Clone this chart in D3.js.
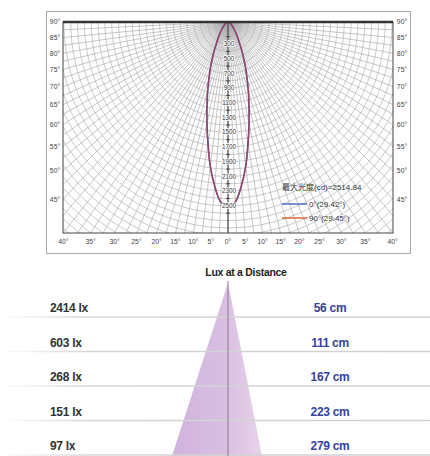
<!DOCTYPE html>
<html><head><meta charset="utf-8">
<script src="https://cdn.jsdelivr.net/npm/d3@7"></script>
<style>body{margin:0;background:#fff}svg{display:block;font-family:"Liberation Sans",Arial,"Noto Sans CJK SC",sans-serif}</style>
</head><body>
<svg id="c" width="430" height="456"></svg>
<script>
// ---- data ----
const angles = [0,2.5,5,7.5,10,12.5,15,17.5,20,22.5,25,27.5,30,35,40,50,60,70,80,90];
const intensityC0 = [2514.84,2450,2240,1980,1680,1420,1185,990,810,670,540,430,340,230,160,80,40,15,5,0];
const intensityC90 = [2514.84,2446,2236,1985,1690,1426,1190,996,815,672,542,432,342,232,162,81,40,15,5,0];
const seriesNames = ["0°(29.42°)", "90°(29.45°)"];
const maxLabel = "最大光度(cd)=2514.84";
const sideAngleTicks = [90,85,80,75,70,65,60,55,50,45];
const bottomAngleTicks = [40,35,30,25,20,15,10,5,0];
const candelaTicks = [300,500,700,900,1100,1300,1500,1700,1900,2100,2300,2500];
const luxTitle = "Lux at a Distance";
const luxValues = [2414,603,268,151,97];
const distances = [56,111,167,223,279];

// ---- layout ----
const svg = d3.select("#c");
const P = {L:63, R:393, T:22, B:233};
const cx = 228, oy = 22, kx = 0.93;
const r = d3.scaleLinear().domain([0, 2870]).range([0, 211]);
const rad = d => d*Math.PI/180;
const proj = (deg, rr) => [cx + Math.sin(rad(deg))*rr*kx, oy + Math.cos(rad(deg))*rr];

// outer frame
svg.append("rect").attr("x",46.5).attr("y",11.5).attr("width",364).attr("height",242)
  .attr("fill","#fff").attr("stroke","#a8a8a8").attr("stroke-width",1);

svg.append("defs").append("clipPath").attr("id","pc").append("rect")
  .attr("x",P.L).attr("y",P.T).attr("width",P.R-P.L).attr("height",P.B-P.T);
const g = svg.append("g").attr("clip-path","url(#pc)");

// rays every 2.5°
const rayAngles = d3.range(-90, 90.01, 2.5);
g.selectAll("line.ray").data(rayAngles).join("line")
  .attr("x1",cx).attr("y1",oy)
  .attr("x2",d=>proj(d,500)[0]).attr("y2",d=>proj(d,500)[1])
  .attr("stroke","#a9a9a9").attr("stroke-width",0.65);

// arcs every 100 cd
const arcVals = d3.range(100, 4000, 100);
const arcLine = d3.line();
g.selectAll("path.arc").data(arcVals).join("path")
  .attr("d", v => arcLine(d3.range(-90, 90.01, 1).map(a => proj(a, r(v)))))
  .attr("fill","none").attr("stroke","#acacac").attr("stroke-width",0.65);

// center axis line
g.append("line").attr("x1",cx).attr("x2",cx).attr("y1",oy).attr("y2",P.B)
  .attr("stroke","#333").attr("stroke-width",1);
// "+" ticks at even hundreds
const plusVals = d3.range(200, 2700, 200);
g.selectAll("line.pt").data(plusVals).join("line")
  .attr("x1",cx-2).attr("x2",cx+2).attr("y1",v=>oy+r(v)).attr("y2",v=>oy+r(v))
  .attr("stroke","#333").attr("stroke-width",0.8);

// curves
const curvePts = vals => {
  const right = angles.map((a,i)=>[a, vals[i]]);
  const left = angles.map((a,i)=>[-a, vals[i]]).reverse();
  return left.concat(right.slice(1));
};
const cl = d3.line().x(d=>proj(d[0], r(d[1]))[0]).y(d=>proj(d[0], r(d[1]))[1]).curve(d3.curveCatmullRom.alpha(0.5));
g.append("path").attr("d", cl(curvePts(intensityC0))).attr("fill","none")
  .attr("stroke","#4a5db5").attr("stroke-width",1.6);
g.append("path").attr("d", cl(curvePts(intensityC90))).attr("fill","none")
  .attr("stroke","#b03c50").attr("stroke-width",1.3).attr("stroke-opacity",0.85);

// candela labels
g.selectAll("text.cd").data(candelaTicks).join("text")
  .attr("x",cx+1).attr("y",v=>oy+r(v)+2.2).attr("text-anchor","middle")
  .attr("font-size",6.3).attr("fill","#333")
  .attr("stroke","#fff").attr("stroke-width",1.6).attr("paint-order","stroke")
  .text(d=>d);

// plot frame
svg.append("rect").attr("x",P.L).attr("y",P.T).attr("width",P.R-P.L).attr("height",P.B-P.T)
  .attr("fill","none").attr("stroke","#444").attr("stroke-width",1);
svg.append("line").attr("x1",P.L).attr("x2",P.R).attr("y1",P.T).attr("y2",P.T)
  .attr("stroke","#333").attr("stroke-width",2.5);

// side angle labels
const sideY = a => oy + (cx-P.L)/(kx*Math.tan(rad(a)));
const sideLab = svg.append("g").attr("font-size",6.8).attr("fill","#444");
sideLab.selectAll("text.l").data(sideAngleTicks).join("text")
  .attr("x",55).attr("y",a=>Math.min(sideY(a), P.B)+2.3).attr("text-anchor","middle").text(a=>a+"°");
sideLab.selectAll("text.r").data(sideAngleTicks).join("text")
  .attr("x",402).attr("y",a=>Math.min(sideY(a), P.B)+2.3).attr("text-anchor","middle").text(a=>a+"°");
// bottom angle labels
const botX = a => (P.B-oy)*Math.tan(rad(a))*kx;
const botTicks = bottomAngleTicks.map(a=>-a).concat(bottomAngleTicks.slice(0,-1).reverse());
sideLab.selectAll("text.b").data(botTicks).join("text")
  .attr("x",a=>cx + Math.sign(a)*botX(Math.abs(a))).attr("y",P.B+10.5).attr("text-anchor","middle")
  .text(a=>Math.abs(a)+"°");

// legend
const lg = svg.append("g").attr("font-size",8).attr("fill","#333");
lg.append("text").attr("x",282).attr("y",190).text(maxLabel);
const legColors = ["#4a6cc8","#d8663a"];
seriesNames.forEach((n,i)=>{
  const y = 204 + i*14;
  lg.append("line").attr("x1",282).attr("x2",307).attr("y1",y).attr("y2",y)
    .attr("stroke",legColors[i]).attr("stroke-width",1.5);
  lg.append("text").attr("x",309).attr("y",y+2.8).text(n);
});

// ---- Lux at a Distance ----
const defs = svg.select("defs");
const cg = defs.append("linearGradient").attr("id","cone").attr("x1","0").attr("x2","1").attr("y1","0").attr("y2","0");
cg.append("stop").attr("offset","0").attr("stop-color","#d1b3dd");
cg.append("stop").attr("offset","0.6").attr("stop-color","#d9bfe2");
cg.append("stop").attr("offset","1").attr("stop-color","#e8d3ea");
const lgr = defs.append("linearGradient").attr("id","rowline").attr("gradientUnits","userSpaceOnUse")
  .attr("x1",0).attr("x2",430).attr("y1",0).attr("y2",0);
lgr.append("stop").attr("offset","0").attr("stop-color","#d6d6d6").attr("stop-opacity",0);
lgr.append("stop").attr("offset","0.2").attr("stop-color","#d6d6d6").attr("stop-opacity",1);
lgr.append("stop").attr("offset","1").attr("stop-color","#d0d0d0").attr("stop-opacity",1);

const apex = [228, 283], baseY = 456;
svg.append("path").attr("d", d3.line()([apex, [172, baseY], [262, baseY]]) + "Z")
  .attr("fill","url(#cone)");

const yRow = d3.scalePoint().domain(d3.range(luxValues.length)).range([308, 446]);
svg.selectAll("line.row").data(d3.range(luxValues.length)).join("line")
  .attr("x1",0).attr("x2",430).attr("y1",i=>yRow(i)+9).attr("y2",i=>yRow(i)+9)
  .attr("stroke","url(#rowline)").attr("stroke-width",1.4);

svg.append("line").attr("x1",228).attr("x2",228).attr("y1",281).attr("y2",456)
  .attr("stroke","#8a7b92").attr("stroke-width",1);

svg.append("text").attr("x",246).attr("y",276).attr("text-anchor","middle")
  .attr("font-size",10.5).attr("font-weight","bold").attr("fill","#222").attr("letter-spacing",-0.3)
  .text(luxTitle);

svg.selectAll("text.lux").data(luxValues).join("text")
  .attr("x",50).attr("y",(d,i)=>yRow(i)+4.2).attr("font-size",12).attr("font-weight","bold")
  .attr("fill","#333").attr("letter-spacing",-0.3).text(d=>d+" lx");
svg.selectAll("text.dist").data(distances).join("text")
  .attr("x",330).attr("y",(d,i)=>yRow(i)+4.2).attr("text-anchor","middle").attr("font-size",12)
  .attr("font-weight","bold").attr("fill","#34449a").attr("letter-spacing",-0.3).text(d=>d+" cm");
</script>
</body></html>
